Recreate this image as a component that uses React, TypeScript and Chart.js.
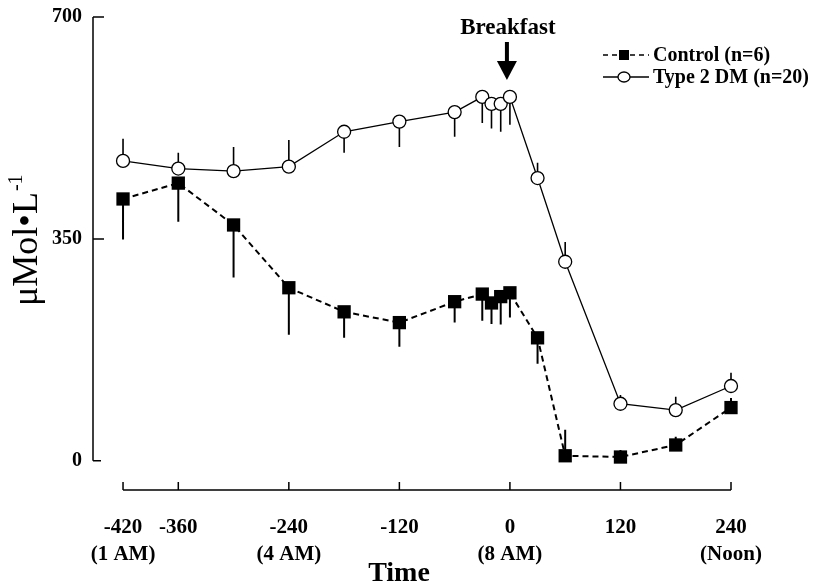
import React, { useEffect, useRef } from 'react';
import { Chart, registerables } from 'chart.js';

Chart.register(...registerables);

// ---- data (minutes relative to breakfast, µmol/L) ----
const times = [-420, -360, -300, -240, -180, -120, -60, -30, -20, -10, 0, 30, 60, 120, 180, 240];
const controlMean = [413, 438, 372, 273, 235, 218, 251, 263, 249, 259, 265, 194, 8, 6, 25, 84];
const controlBarEnd = [349, 377, 289, 199, 194, 180, 218, 221, 216, 215, 226, 153, 49, 17, 38, 99];
const type2Mean = [473, 461, 457, 464, 519, 535, 550, 574, 563, 563, 574, 446, 314, 90, 80, 118];
const type2BarEnd = [508, 486, 495, 506, 486, 495, 511, 533, 524, 519, 530, 470, 345, 104, 101, 139];

const xTickValues = [-420, -360, -240, -120, 0, 120, 240];
const xTickClock = ['(1 AM)', '', '(4 AM)', '', '(8 AM)', '', '(Noon)'];
const yTickValues = [0, 350, 700];

const controlLabel = 'Control (n=6)';
const type2Label = 'Type 2 DM (n=20)';
const mealLabel = 'Breakfast';
const mealTime = 0;

const SERIF = '"Liberation Serif", "Times New Roman", serif';

const decorPlugin = {
  id: 'decor',
  beforeDatasetsDraw(chart: any) {
    const { ctx, chartArea, scales } = chart;
    const x = scales.x;
    const y = scales.y;
    ctx.save();
    ctx.strokeStyle = '#000';
    ctx.lineCap = 'butt';

    // y axis line with inward ticks
    const ax = chartArea.left;
    ctx.lineWidth = 1.5;
    ctx.beginPath();
    ctx.moveTo(ax, y.getPixelForValue(yTickValues[yTickValues.length - 1]));
    ctx.lineTo(ax, y.getPixelForValue(yTickValues[0]));
    yTickValues.forEach((v, i) => {
      const py = y.getPixelForValue(v);
      ctx.moveTo(ax, py);
      ctx.lineTo(ax + (i === 0 ? 8 : 11), py);
    });
    ctx.stroke();

    // x axis line with upward ticks
    const by = chartArea.bottom;
    ctx.beginPath();
    ctx.moveTo(x.getPixelForValue(xTickValues[0]), by);
    ctx.lineTo(x.getPixelForValue(xTickValues[xTickValues.length - 1]), by);
    xTickValues.forEach((v) => {
      const px = x.getPixelForValue(v);
      ctx.moveTo(px, by);
      ctx.lineTo(px, by - 8);
    });
    ctx.stroke();

    // error bars (one-sided, no caps)
    const drawBars = (means: number[], ends: number[], w: number) => {
      ctx.lineWidth = w;
      ctx.beginPath();
      times.forEach((t, i) => {
        const px = x.getPixelForValue(t);
        ctx.moveTo(px, y.getPixelForValue(means[i]));
        ctx.lineTo(px, y.getPixelForValue(ends[i]));
      });
      ctx.stroke();
    };
    drawBars(type2Mean, type2BarEnd, 1.6);
    drawBars(controlMean, controlBarEnd, 2);
    ctx.restore();
  },
  afterDraw(chart: any) {
    const { ctx, scales } = chart;
    const x = scales.x;
    ctx.save();
    ctx.fillStyle = '#000';
    ctx.strokeStyle = '#000';

    // Breakfast annotation
    const mx = x.getPixelForValue(mealTime) - 3;
    ctx.font = `bold 23px ${SERIF}`;
    ctx.textAlign = 'center';
    ctx.textBaseline = 'middle';
    ctx.fillText(mealLabel, mx + 1, 28);
    ctx.lineWidth = 4;
    ctx.beginPath();
    ctx.moveTo(mx, 42);
    ctx.lineTo(mx, 64);
    ctx.stroke();
    ctx.beginPath();
    ctx.moveTo(mx - 10, 61);
    ctx.lineTo(mx + 10, 61);
    ctx.lineTo(mx, 80);
    ctx.closePath();
    ctx.fill();

    // Legend
    ctx.font = `bold 20px ${SERIF}`;
    ctx.textAlign = 'left';
    ctx.textBaseline = 'middle';
    const lx0 = 603;
    const lx1 = 649;
    const lmx = 624;
    const r1 = 55;
    const r2 = 77;
    ctx.lineWidth = 1.3;
    ctx.setLineDash([5, 4]);
    ctx.beginPath();
    ctx.moveTo(lx0, r1);
    ctx.lineTo(lx1, r1);
    ctx.stroke();
    ctx.setLineDash([]);
    ctx.fillRect(lmx - 5, r1 - 5, 10, 10);
    ctx.fillText(controlLabel, 653, r1 + 1);

    ctx.beginPath();
    ctx.moveTo(lx0, r2);
    ctx.lineTo(lx1, r2);
    ctx.stroke();
    ctx.beginPath();
    ctx.ellipse(lmx, r2, 6, 5, 0, 0, Math.PI * 2);
    ctx.fillStyle = '#fff';
    ctx.fill();
    ctx.stroke();
    ctx.fillStyle = '#000';
    ctx.fillText(type2Label, 653, r2 + 1);

    // x axis title
    ctx.font = `bold 28px ${SERIF}`;
    ctx.textAlign = 'center';
    ctx.textBaseline = 'middle';
    ctx.fillText('Time', 399, 574);

    // y axis title (rotated) with superscript
    ctx.translate(37, 306);
    ctx.rotate(-Math.PI / 2);
    ctx.textAlign = 'left';
    ctx.textBaseline = 'alphabetic';
    ctx.font = `36px ${SERIF}`;
    const main = 'μMol•L';
    ctx.fillText(main, 0, 0);
    const w = ctx.measureText(main).width;
    ctx.font = `20px ${SERIF}`;
    ctx.fillText('-1', w + 1, -15);
    ctx.restore();
  },
};

export default function App() {
  const canvasRef = useRef<HTMLCanvasElement | null>(null);

  useEffect(() => {
    if (!canvasRef.current) return;
    Chart.defaults.font.family = SERIF;
    Chart.defaults.color = '#000';
    const chart = new Chart(canvasRef.current, {
      type: 'line',
      data: {
        datasets: [
          {
            label: type2Label,
            data: times.map((t, i) => ({ x: t, y: type2Mean[i] })),
            borderColor: '#000',
            borderWidth: 1.3,
            pointStyle: 'circle',
            pointRadius: 6.5,
            pointBackgroundColor: '#fff',
            pointBorderColor: '#000',
            pointBorderWidth: 1.3,
            tension: 0,
            clip: false as any,
          },
          {
            label: controlLabel,
            data: times.map((t, i) => ({ x: t, y: controlMean[i] })),
            borderColor: '#000',
            borderWidth: 2,
            borderDash: [6, 4],
            pointStyle: 'rect',
            pointRadius: 9.4,
            pointBackgroundColor: '#000',
            pointBorderColor: '#000',
            pointBorderWidth: 0,
            tension: 0,
            clip: false as any,
          },
        ],
      },
      options: {
        animation: false,
        responsive: false,
        events: [],
        layout: { padding: { left: 0, top: 17, right: 92, bottom: 0 } },
        plugins: {
          legend: { display: false },
          tooltip: { enabled: false },
        },
        scales: {
          x: {
            type: 'linear',
            min: -452.6,
            max: 240,
            grid: { display: false, drawTicks: false },
            border: { display: false },
            afterBuildTicks: (scale: any) => {
              scale.ticks = xTickValues.map((v) => ({ value: v }));
            },
            afterFit: (scale: any) => {
              scale.height = 97;
              scale.paddingLeft = 0;
              scale.paddingRight = 0;
            },
            ticks: {
              autoSkip: false,
              maxRotation: 0,
              minRotation: 0,
              padding: 24,
              font: { family: SERIF, size: 21, weight: 'bold', lineHeight: 1.28 },
              color: '#000',
              callback: (value: any) => {
                const i = xTickValues.indexOf(Number(value));
                if (i < 0) return '';
                return xTickClock[i] ? [String(value), xTickClock[i]] : String(value);
              },
            },
          },
          y: {
            type: 'linear',
            min: -46,
            max: 700,
            grid: { display: false, drawTicks: false },
            border: { display: false },
            afterBuildTicks: (scale: any) => {
              scale.ticks = yTickValues.map((v) => ({ value: v }));
            },
            afterFit: (scale: any) => {
              scale.width = 93;
              scale.paddingTop = 0;
              scale.paddingBottom = 0;
            },
            ticks: {
              padding: 11,
              font: { family: SERIF, size: 20, weight: 'bold' },
              color: '#000',
              callback: (value: any) => String(value),
            },
          },
        },
      } as any,
      plugins: [decorPlugin],
    });
    return () => chart.destroy();
  }, []);

  return (
    <div style={{ position: 'absolute', left: 0, top: 0, width: 823, height: 587, background: '#fff' }}>
      <canvas ref={canvasRef} width={823} height={587} />
    </div>
  );
}
